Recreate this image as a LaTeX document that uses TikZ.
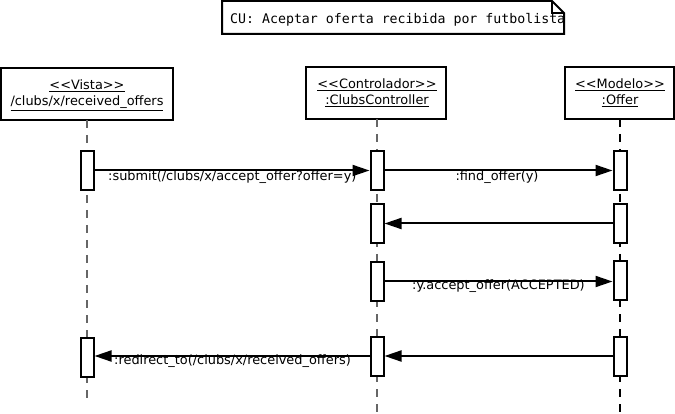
\documentclass[tikz,border=0pt]{standalone}
\usepackage{fontspec}
\setmainfont{DejaVu Sans}
\newfontfamily\notemono{DejaVu Sans Mono}
\usetikzlibrary{arrows.meta}
\newcommand{\ulgray}[1]{$\underline{\hbox{#1}}$}
\tikzset{
  x=1pt, y=-1pt,
  every node/.style={font=\fontsize{12.9}{15}\selectfont, inner sep=0pt},
  objbox/.style={draw, line width=2pt, fill=white},
  actbox/.style={draw, line width=2pt, fill=white, minimum width=13pt, minimum height=39pt},
  lifeline/.style={line width=1.3pt, dash pattern=on 8pt off 7pt},
  msg/.style={line width=2pt, -{Triangle[length=17pt,width=11pt]}},
  msglabel/.style={anchor=mid west},
}
\begin{document}
\begin{tikzpicture}
\useasboundingbox (0,0) rectangle (675,414);
% note
\draw[line width=2pt, fill=white] (222,1) -- (552,1) -- (564,13) -- (564,34) -- (222,34) -- cycle;
\draw[line width=1.2pt] (552,1) -- (552,13) -- (564,13);
\node[anchor=base west, font=\notemono\fontsize{13.25}{15}\selectfont] (note) at (230,24) {CU: Aceptar oferta recibida por futbolista};
% object boxes
\draw[objbox] (1,68) rectangle (173,120);
\draw[objbox] (306,67) rectangle (446,119);
\draw[objbox] (565,67) rectangle (674,119);
\coordinate (vtop) at (87,120);
\coordinate (ctop) at (377,119);
\coordinate (otop) at (620,119);
\coordinate (vbot) at (87,404);
\coordinate (cbot) at (377,412);
\coordinate (obot) at (620,414);
\node (v1) at (87,86) {\ulgray{<{}<Vista>{}>}};
\node (v2) at (87,103) {\ulgray{/clubs/x/received\_offers}};
\node (c1) at (377,85) {\ulgray{<{}<Controlador>{}>}};
\node (c2) at (377,101) {\ulgray{:ClubsController}};
\node (o1) at (620,85) {\ulgray{<{}<Modelo>{}>}};
\node (o2) at (620,101) {\ulgray{:Offer}};
% lifelines
\draw[lifeline, gray!80!black] (vtop) -- (vbot);
\draw[lifeline, gray!80!black] (ctop) -- (cbot);
\draw[lifeline] (otop) -- (obot);
% activations
\node[actbox] (va1) at (87,170.5) {};
\node[actbox] (va2) at (87,357) {};
\node[actbox] (ca1) at (377,170.5) {};
\node[actbox] (ca2) at (377,223.5) {};
\node[actbox] (ca3) at (377,281.5) {};
\node[actbox] (ca4) at (377,356.5) {};
\node[actbox] (oa1) at (620,170.5) {};
\node[actbox] (oa2) at (620,223.5) {};
\node[actbox] (oa3) at (620,280.5) {};
\node[actbox] (oa4) at (620,356) {};
% messages
\draw[msg] (va1.east) -- (ca1.west);
\draw[msg] (ca1.east) -- (oa1.west);
\draw[msg] (oa2.west) -- (ca2.east);
\draw[msg] (ca3.east) -- (ca3.east -| oa3.west);
\draw[msg] (oa4.west) -- (oa4.west -| ca4.east);
\draw[msg] (ca4.west |- oa4.west) -- (va2.east |- oa4.west);
% labels
\node[msglabel] (l1) at (108,178) {:submit(/clubs/x/accept\_offer?offer=y)};
\node (l2) at (497,177) {:find\_offer(y)};
\node[msglabel] (l4) at (412,287) {:y.accept\_offer(ACCEPTED)};
\node[msglabel] (l6) at (114,362) {:redirect\_to(/clubs/x/received\_offers)};
\end{tikzpicture}
\end{document}
